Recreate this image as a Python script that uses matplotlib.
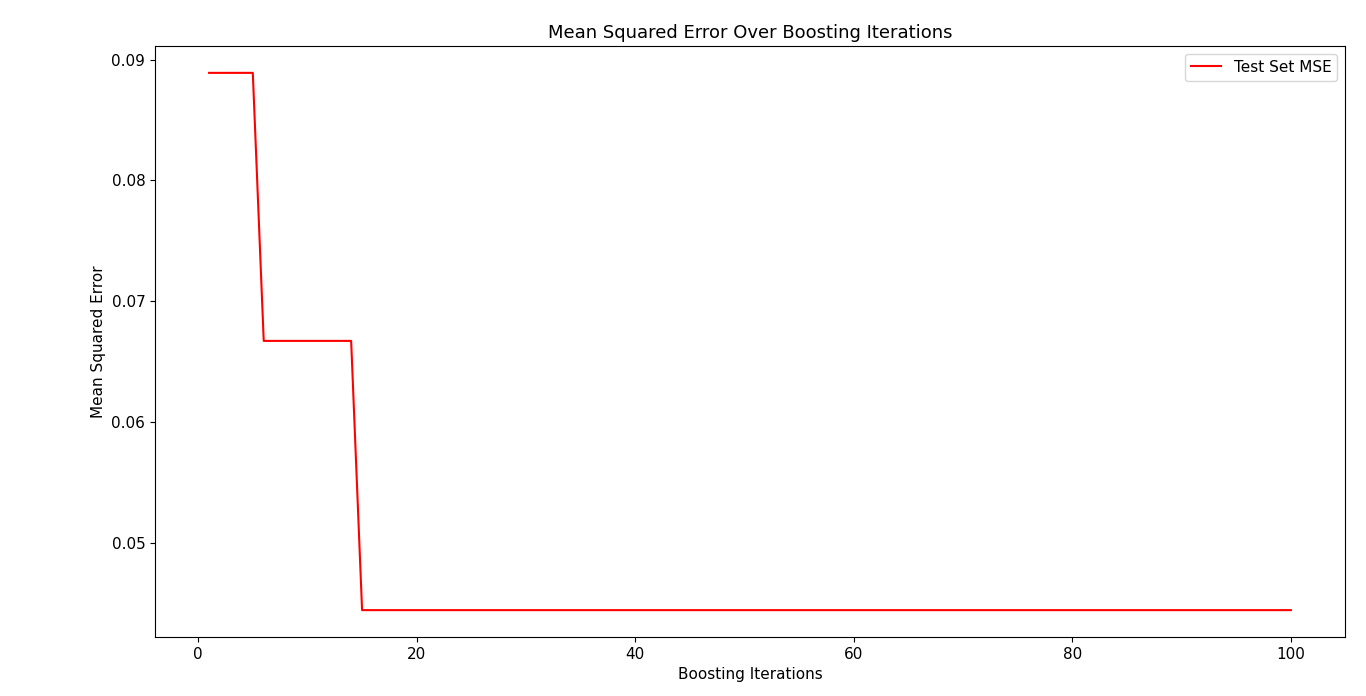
import matplotlib
matplotlib.use("Agg")
import matplotlib.pyplot as plt

# step change points of the test-set MSE curve
iterations = [1, 5, 6, 14, 15, 100]
test_mse = [0.0889, 0.0889, 0.0667, 0.0667, 0.0444, 0.0444]

fig = plt.figure(figsize=(13.66, 6.96), dpi=100)
ax = fig.add_axes([155 / 1366, 1 - 637 / 696, (1345 - 155) / 1366, (637 - 46) / 696])
ax.plot(iterations, test_mse, color="red", label="Test Set MSE")
ax.set_title("Mean Squared Error Over Boosting Iterations", fontsize=13)
ax.set_xlabel("Boosting Iterations", fontsize=11)
ax.set_ylabel("Mean Squared Error", fontsize=11)
ax.tick_params(labelsize=11)
ax.set_yticks([0.05, 0.06, 0.07, 0.08, 0.09])
ax.legend(fontsize=11)
fig.savefig("out.png", dpi=100)
